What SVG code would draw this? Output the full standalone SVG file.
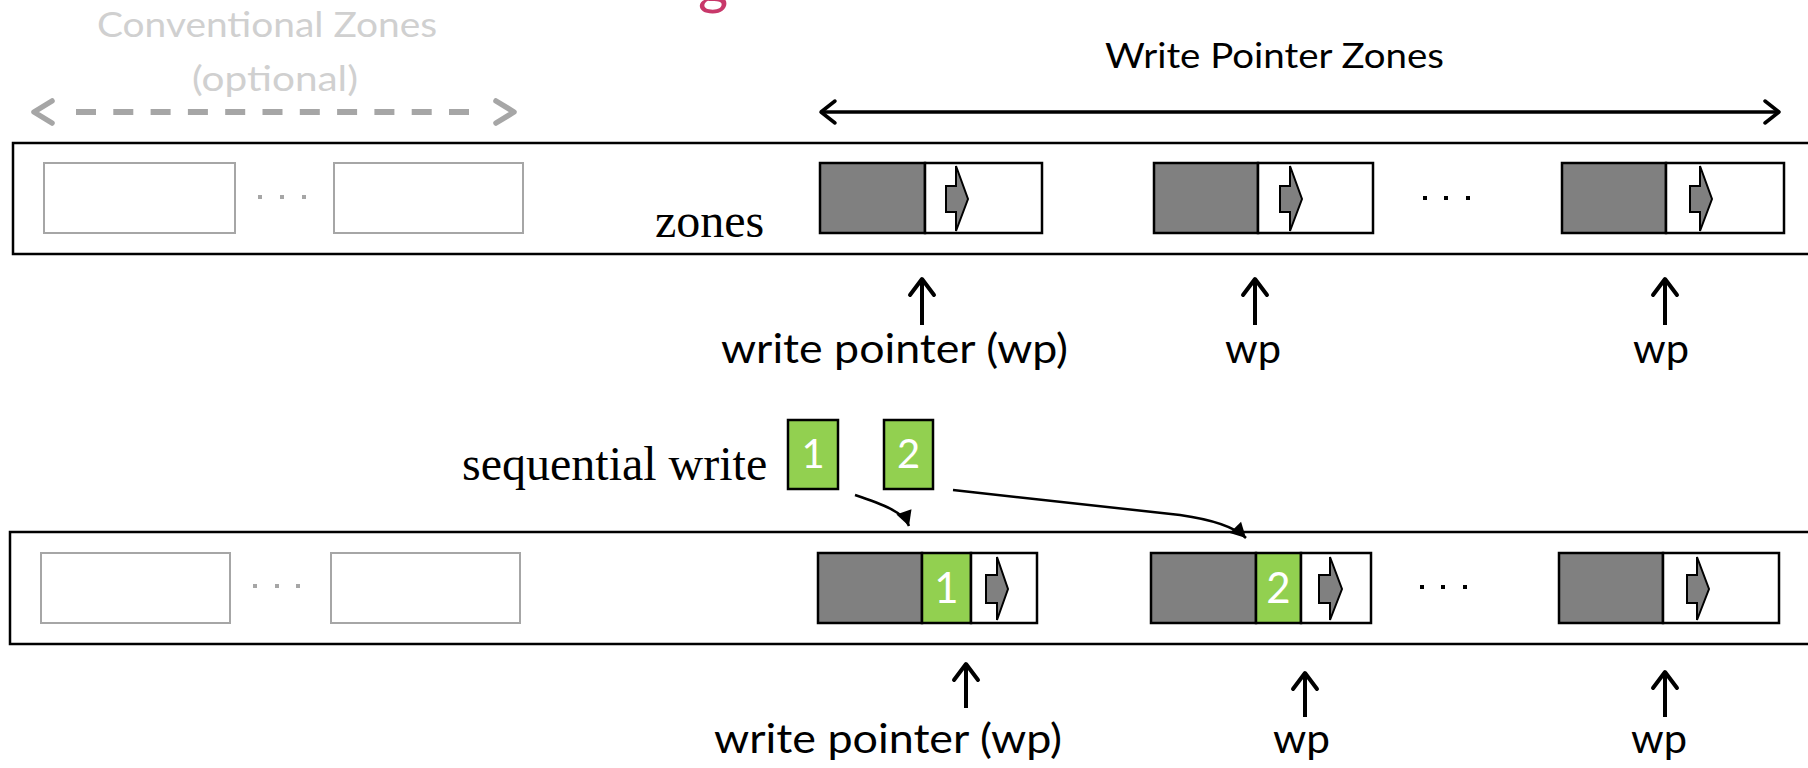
<svg xmlns="http://www.w3.org/2000/svg" width="1808" height="768" viewBox="0 0 1808 768">
<style>
.bg{fill:#fff}
.outer{fill:#fff;stroke:#000;stroke-width:2.5}
.conv{fill:#fff;stroke:#A6A6A6;stroke-width:2}
.used{fill:#808080;stroke:#000;stroke-width:2.5}
.free{fill:#fff;stroke:#000;stroke-width:2.5}
.green{fill:#92D050;stroke:#000;stroke-width:2.5}
.wpa{fill:#808080;stroke:#000;stroke-width:2;stroke-linejoin:miter}
.sans{font-family:Lato,"Open Sans","Liberation Sans",sans-serif}
.serif{font-family:"Liberation Serif","Times New Roman",serif;font-size:48px;fill:#000}
.lbl{font-size:40px;fill:#000}
.hdr{font-size:34px}
.num{font-family:Lato,"Open Sans","Liberation Sans",sans-serif;fill:#fff;text-anchor:middle}
.up{stroke:#000;stroke-width:4;fill:none}
.curve{stroke:#000;stroke-width:2.5;fill:none}
</style>
<defs>
<marker id="chevUp" markerUnits="userSpaceOnUse" orient="auto" refX="0" refY="0" overflow="visible">
<path d="M-16,-12 L0,0 L-16,12" fill="none" stroke="#000" stroke-width="4" stroke-linecap="round" stroke-linejoin="round"/>
</marker>
<marker id="chevBlk" markerUnits="userSpaceOnUse" orient="auto-start-reverse" refX="0" refY="0" overflow="visible">
<path d="M-14,-11 L0,0 L-14,11" fill="none" stroke="#000" stroke-width="3.5" stroke-linecap="round" stroke-linejoin="round"/>
</marker>
<marker id="tri" markerUnits="userSpaceOnUse" orient="auto" refX="0" refY="0" overflow="visible">
<path d="M-15,-8 L0,0 L-15,8 z" fill="#000"/>
</marker>
</defs>
<rect class="bg" x="0" y="0" width="1808" height="768"/>

<text id="title-fragment" class="sans" x="698" y="3" font-size="58" fill="#C8386A">g</text>

<g id="conv-label">
<text class="sans hdr" x="97" y="37" fill="#D0D0D0" textLength="340" lengthAdjust="spacingAndGlyphs">Conventional Zones</text>
<text class="sans hdr" x="192" y="91" fill="#D0D0D0" textLength="166" lengthAdjust="spacingAndGlyphs">(optional)</text>
</g>
<g id="wpz-label">
<text class="sans hdr" x="1105" y="68" fill="#000" textLength="339" lengthAdjust="spacingAndGlyphs">Write Pointer Zones</text>
</g>

<g id="top-row">
<rect class="outer" x="13" y="143" width="1820" height="111"/>
<g id="top-conv1"><rect class="conv" x="44" y="163" width="191" height="70"/></g>
<g id="top-conv-dots" fill="#A6A6A6"><rect x="258" y="195" width="4" height="4"/><rect x="280" y="195" width="4" height="4"/><rect x="302" y="195" width="4" height="4"/></g>
<g id="top-conv2"><rect class="conv" x="334" y="163" width="189" height="70"/></g>
<text id="zones-label" class="serif" x="655" y="237">zones</text>
<g id="top-zone1">
<rect class="used" x="820" y="163" width="105" height="70"/>
<rect class="free" x="925" y="163" width="117" height="70"/>
<polygon class="wpa" points="946,186 956,186 956,166 968,199 956,231 956,212 946,212"/>
</g>
<g id="top-zone2">
<rect class="used" x="1154" y="163" width="104" height="70"/>
<rect class="free" x="1258" y="163" width="115" height="70"/>
<polygon class="wpa" points="1280,186 1290,186 1290,166 1302,199 1290,231 1290,212 1280,212"/>
</g>
<g id="top-dots" fill="#000"><rect x="1423" y="196" width="4" height="4"/><rect x="1444" y="196" width="4" height="4"/><rect x="1466" y="196" width="4" height="4"/></g>
<g id="top-zone3">
<rect class="used" x="1562" y="163" width="104" height="70"/>
<rect class="free" x="1666" y="163" width="118" height="70"/>
<polygon class="wpa" points="1690,186 1700,186 1700,166 1712,199 1700,231 1700,212 1690,212"/>
</g>
</g>

<g id="top-wp-labels">
<text class="sans lbl" x="721" y="363" textLength="347" lengthAdjust="spacingAndGlyphs">write pointer  (wp)</text>
<text class="sans lbl" x="1225" y="363" textLength="56" lengthAdjust="spacingAndGlyphs">wp</text>
<text class="sans lbl" x="1633" y="363" textLength="56" lengthAdjust="spacingAndGlyphs">wp</text>
</g>

<g id="seq-write">
<text class="serif" x="462" y="480">sequential write</text>
<g id="block1"><rect class="green" x="788" y="420" width="50" height="69"/><text class="num" x="813" y="468" font-size="40">1</text></g>
<g id="block2"><rect class="green" x="884" y="420" width="49" height="69"/><text class="num" x="908.5" y="468" font-size="40">2</text></g>
</g>

<g id="bottom-row">
<rect class="outer" x="10" y="532" width="1820" height="112"/>
<g id="bot-conv1"><rect class="conv" x="41" y="553" width="189" height="70"/></g>
<g id="bot-conv-dots" fill="#A6A6A6"><rect x="253" y="584" width="4" height="4"/><rect x="275" y="584" width="4" height="4"/><rect x="296" y="584" width="4" height="4"/></g>
<g id="bot-conv2"><rect class="conv" x="331" y="553" width="189" height="70"/></g>
<g id="bot-zone1">
<rect class="used" x="818" y="553" width="104" height="70"/>
<rect class="green" x="922" y="553" width="49" height="70"/>
<text class="num" x="946.5" y="603" font-size="42">1</text>
<rect class="free" x="971" y="553" width="66" height="70"/>
<polygon class="wpa" points="986,575 997,575 997,557 1008,589 997,620 997,603 986,603"/>
</g>
<g id="bot-zone2">
<rect class="used" x="1151" y="553" width="105" height="70"/>
<rect class="green" x="1256" y="553" width="45" height="70"/>
<text class="num" x="1278.5" y="603" font-size="42">2</text>
<rect class="free" x="1301" y="553" width="70" height="70"/>
<polygon class="wpa" points="1319,575 1330,575 1330,557 1342,589 1330,620 1330,603 1319,603"/>
</g>
<g id="bot-dots" fill="#000"><rect x="1420" y="585" width="4" height="4"/><rect x="1441" y="585" width="4" height="4"/><rect x="1463" y="585" width="4" height="4"/></g>
<g id="bot-zone3">
<rect class="used" x="1559" y="553" width="104" height="70"/>
<rect class="free" x="1663" y="553" width="116" height="70"/>
<polygon class="wpa" points="1687,575 1697,575 1697,557 1709,589 1697,620 1697,603 1687,603"/>
</g>
</g>

<g id="bot-wp-labels">
<text class="sans lbl" x="714" y="753" textLength="348" lengthAdjust="spacingAndGlyphs">write pointer  (wp)</text>
<text class="sans lbl" x="1273" y="753" textLength="57" lengthAdjust="spacingAndGlyphs">wp</text>
<text class="sans lbl" x="1631" y="753" textLength="56" lengthAdjust="spacingAndGlyphs">wp</text>
</g>

<g id="connectors">
<g id="conv-span">
<line x1="76" y1="112" x2="470" y2="112" stroke="#A6A6A6" stroke-width="6" stroke-dasharray="20 17.3"/>
<path d="M52,101 L34,112 L52,123" fill="none" stroke="#A6A6A6" stroke-width="5.5" stroke-linecap="round" stroke-linejoin="round"/>
<path d="M496,101 L514,112 L496,123" fill="none" stroke="#A6A6A6" stroke-width="5.5" stroke-linecap="round" stroke-linejoin="round"/>
</g>
<line id="wpz-span" x1="821" y1="112" x2="1779" y2="112" stroke="#000" stroke-width="3.5" marker-start="url(#chevBlk)" marker-end="url(#chevBlk)"/>
<line class="up" x1="922" y1="325" x2="922" y2="279" marker-end="url(#chevUp)"/>
<line class="up" x1="1255" y1="325" x2="1255" y2="279" marker-end="url(#chevUp)"/>
<line class="up" x1="1665" y1="325" x2="1665" y2="279" marker-end="url(#chevUp)"/>
<line class="up" x1="966" y1="708" x2="966" y2="664" marker-end="url(#chevUp)"/>
<line class="up" x1="1305" y1="717" x2="1305" y2="673" marker-end="url(#chevUp)"/>
<line class="up" x1="1665" y1="717" x2="1665" y2="672" marker-end="url(#chevUp)"/>
<path class="curve" d="M855,495 C882,504 904,512 909,526" marker-end="url(#tri)"/>
<path class="curve" d="M953,490 L1180,515 C1215,520 1236,528 1246,538" marker-end="url(#tri)"/>
</g>
</svg>
